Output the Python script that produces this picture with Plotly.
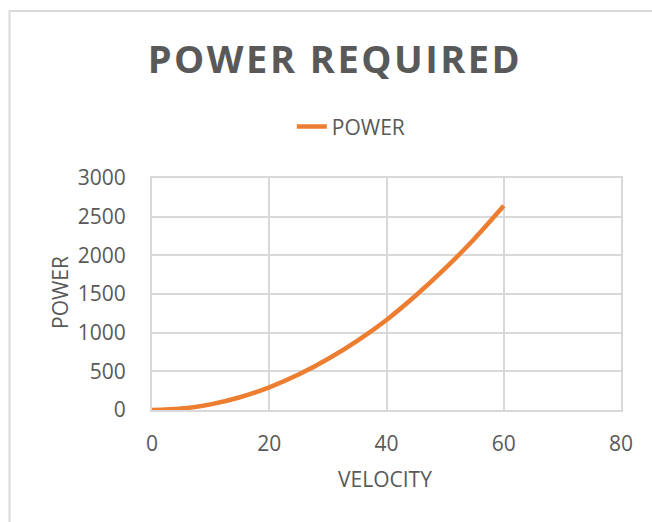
import plotly.graph_objects as go

# Power required vs. velocity
velocity = [0, 5, 10, 15, 20, 25, 30, 35, 40, 45, 50, 55, 60]
power = [0, 18, 73, 165, 293, 458, 660, 895, 1165, 1480, 1830, 2215, 2640]

x_ticks = [0, 20, 40, 60, 80]
y_ticks = [0, 500, 1000, 1500, 2000, 2500, 3000]

TEXT = "#595959"
GRID = "#d9d9d9"
ORANGE = "#ED7D31"
FONT = "Open Sans"

fig = go.Figure()
fig.add_trace(go.Scatter(
    x=velocity, y=power, mode="lines", name="POWER",
    line=dict(color=ORANGE, width=4.5, shape="spline"),
))

axis_common = dict(
    showgrid=True, gridcolor=GRID, gridwidth=2,
    showline=True, linecolor=GRID, linewidth=2, mirror=True,
    zeroline=False, ticks="",
    tickfont=dict(family=FONT, size=21, color=TEXT),
)

fig.update_layout(
    width=652, height=522,
    margin=dict(l=152, r=31, t=178, b=112),
    paper_bgcolor="white", plot_bgcolor="white",
    title=dict(
        text='<span style="letter-spacing:2.5px"><b>POWER REQUIRED</b></span>',
        font=dict(family=FONT, size=38, color=TEXT),
        x=(335 / 652), xref="container", xanchor="center",
        y=1 - 60 / 522, yref="container", yanchor="middle",
    ),
    legend=dict(
        orientation="h", x=0.425, xanchor="center",
        y=1.22, yanchor="middle",
        font=dict(family=FONT, size=21, color=TEXT),
        bgcolor="rgba(0,0,0,0)",
    ),
    showlegend=True,
    xaxis=dict(range=[0, 80], tickvals=x_ticks, ticklabelstandoff=14, **axis_common),
    yaxis=dict(range=[0, 3000], tickvals=y_ticks, ticklabelstandoff=20, **axis_common),
    annotations=[
        dict(text="VELOCITY", xref="paper", yref="paper",
             x=(385 - 152) / 469, y=(410 - 479) / 232,
             xanchor="center", yanchor="middle", showarrow=False,
             font=dict(family=FONT, size=21, color=TEXT)),
        dict(text="POWER", xref="paper", yref="paper",
             x=(60 - 152) / 469, y=(410 - 293) / 232, textangle=-90,
             xanchor="center", yanchor="middle", showarrow=False,
             font=dict(family=FONT, size=21, color=TEXT)),
    ],
    shapes=[
        # chart-area border
        dict(type="rect", xref="paper", yref="paper",
             x0=(9.5 - 152) / 469, x1=1.5, y0=-2, y1=(410 - 11) / 232,
             line=dict(color=GRID, width=2), fillcolor="rgba(0,0,0,0)",
             layer="below"),
    ],
)

fig.write_html("out.html")
